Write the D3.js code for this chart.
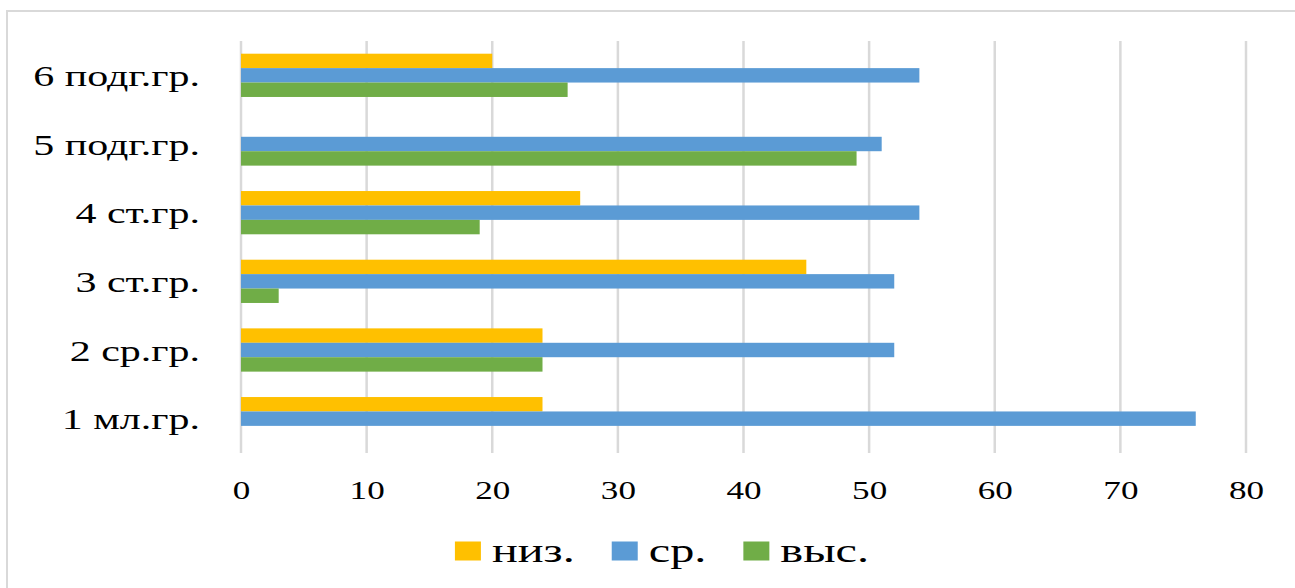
<!DOCTYPE html>
<html>
<head>
<meta charset="utf-8">
<script src="https://cdn.jsdelivr.net/npm/d3@7"></script>
<style>
  body { margin: 0; background: #fff; }
  text { font-family: "Liberation Serif", "Times New Roman", serif; fill: #000; }
</style>
</head>
<body>
<svg id="chart"></svg>
<script>
const categories = ['1 мл.гр.', '2 ср.гр.', '3 ст.гр.', '4 ст.гр.', '5 подг.гр.', '6 подг.гр.'];
const seriesNames = ['низ.', 'ср.', 'выс.'];
const lowValues = [24, 24, 45, 27, 0, 20];
const midValues = [76, 52, 52, 54, 51, 54];
const highValues = [0, 24, 3, 19, 49, 26];
const xTicks = [0, 10, 20, 30, 40, 50, 60, 70, 80];
const colors = ['#ffc000', '#5b9bd5', '#70ad47'];

(function() {
    const W = 1295, H = 588;
    // the source picture is stretched sideways, text follows it
    const SX = 1.35, SXcat = 1.40, SXleg = 1.42;
    const left = 241, right = 1246, top = 41, bottom = 453;

    const series = [lowValues, midValues, highValues];
    const rows = [];
    categories.forEach((c, i) => {
        seriesNames.forEach((s, j) => rows.push({ cat: c, name: s, value: series[j][i], color: colors[j] }));
    });

    const svg = d3.select('svg#chart')
        .attr('width', W)
        .attr('height', H);

    // outer frame (top and left edges show)
    svg.append('path')
        .attr('d', `M7,${H} V11 H${W}`)
        .attr('fill', 'none')
        .attr('stroke', '#d9d9d9')
        .attr('stroke-width', 2);

    const xScale = d3.scaleLinear()
        .domain([0, 80])
        .range([left, right]);

    const yScale = d3.scaleBand()
        .domain(categories)
        .range([bottom, top])
        .paddingInner(0.37)
        .paddingOuter(0.185);

    const inner = d3.scaleBand()
        .domain(seriesNames)
        .range([0, yScale.bandwidth()]);

    // grid
    svg.append('g')
        .selectAll('line')
        .data(xTicks)
        .enter()
        .append('line')
        .attr('x1', d => xScale(d))
        .attr('x2', d => xScale(d))
        .attr('y1', top)
        .attr('y2', bottom)
        .attr('stroke', '#d9d9d9')
        .attr('stroke-width', 2.5);

    // bars
    svg.append('g')
        .selectAll('rect')
        .data(rows.filter(r => r.value > 0))
        .enter()
        .append('rect')
        .attr('x', xScale(0))
        .attr('y', r => yScale(r.cat) + inner(r.name))
        .attr('width', r => xScale(r.value) - xScale(0))
        .attr('height', inner.bandwidth())
        .attr('fill', r => r.color);

    // x axis labels
    const xAxis = svg.append('g')
        .attr('transform', `translate(0, ${bottom})`)
        .call(d3.axisBottom(xScale).tickValues(xTicks).tickSize(0).tickFormat(d3.format('d')));
    xAxis.select('.domain').remove();
    xAxis.selectAll('text')
        .attr('y', 28)
        .style('font-size', '26px')
        .style('font-family', '"Liberation Serif", serif')
        .attr('fill', '#000')
        .attr('transform', `scale(${SX},1)`);

    // y axis labels
    const yAxis = svg.append('g')
        .attr('transform', `translate(${left}, 0)`)
        .call(d3.axisLeft(yScale).tickSize(0));
    yAxis.select('.domain').remove();
    yAxis.selectAll('text')
        .attr('x', -41 / SXcat)
        .attr('dy', '0.35em')
        .style('font-size', '30px')
        .style('font-family', '"Liberation Serif", serif')
        .attr('fill', '#000')
        .attr('transform', `scale(${SXcat},1)`);

    // legend
    const legend = svg.append('g');
    const sqW = 26, sqH = 19, gap = 11, itemGap = 37;
    let cx = 0;
    seriesNames.forEach((s, j) => {
        const item = legend.append('g').attr('transform', `translate(${cx}, 0)`);
        item.append('rect')
            .attr('x', 0)
            .attr('y', -sqH / 2)
            .attr('width', sqW)
            .attr('height', sqH)
            .attr('fill', colors[j]);
        const t = item.append('text')
            .attr('x', (sqW + gap) / SXleg)
            .attr('y', 0)
            .attr('dy', '0.33em')
            .attr('transform', `scale(${SXleg},1)`)
            .style('font-size', '34px')
            .text(s);
        cx += sqW + gap + t.node().getComputedTextLength() * SXleg + itemGap;
    });
    const legendW = cx - itemGap;
    legend.attr('transform', `translate(${662 - legendW / 2}, 551)`);
})();
</script>
</body>
</html>
